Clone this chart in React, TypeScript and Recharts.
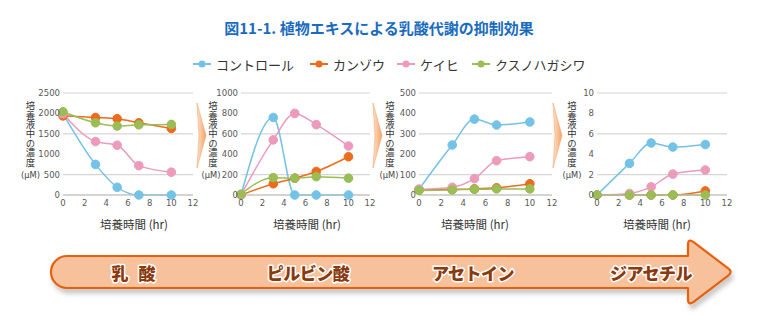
import React from 'react';
import { LineChart, Line, XAxis, YAxis, CartesianGrid } from 'recharts';

// sampling times (hr)
const HOURS = [0, 3, 5, 7, 10];
const X_TICKS = [0, 2, 4, 6, 8, 10, 12];

const SERIES_NAMES = ['コントロール', 'カンゾウ', 'ケイヒ', 'クスノハガシワ'];
const SERIES_COLORS = ['#74c3e6', '#ed6b1c', '#ec9bbd', '#9abd55'];

// 乳酸 (μM)
const LACTIC_CONTROL = [1990, 750, 190, 0, 0];
const LACTIC_KANZOU = [1940, 1900, 1870, 1770, 1630];
const LACTIC_KEIHI = [1990, 1310, 1220, 720, 560];
const LACTIC_KUSUNOHA = [2040, 1770, 1690, 1720, 1730];
const LACTIC_TICKS = [0, 500, 1000, 1500, 2000, 2500];

// ピルビン酸 (μM)
const PYRUVIC_CONTROL = [0, 760, 0, 0, 0];
const PYRUVIC_KANZOU = [0, 110, 165, 230, 375];
const PYRUVIC_KEIHI = [0, 540, 800, 690, 480];
const PYRUVIC_KUSUNOHA = [8, 170, 165, 180, 165];
const PYRUVIC_TICKS = [0, 200, 400, 600, 800, 1000];

// アセトイン (μM)
const ACETOIN_CONTROL = [28, 245, 372, 343, 358];
const ACETOIN_KANZOU = [25, 28, 30, 35, 55];
const ACETOIN_KEIHI = [28, 38, 80, 168, 188];
const ACETOIN_KUSUNOHA = [22, 25, 28, 30, 30];
const ACETOIN_TICKS = [0, 100, 200, 300, 400, 500];

// ジアセチル (μM)
const DIACETYL_CONTROL = [0, 3.1, 5.1, 4.7, 4.95];
const DIACETYL_KANZOU = [0, 0, 0, 0, 0.4];
const DIACETYL_KEIHI = [0, 0.15, 0.8, 2.05, 2.45];
const DIACETYL_KUSUNOHA = [0, 0, 0, 0, 0];
const DIACETYL_TICKS = [0, 2, 4, 6, 8, 10];

const STAGES = ['乳 酸', 'ピルビン酸', 'アセトイン', 'ジアセチル'];

const PANELS = [
  { series: [LACTIC_CONTROL, LACTIC_KANZOU, LACTIC_KEIHI, LACTIC_KUSUNOHA], ticks: LACTIC_TICKS },
  { series: [PYRUVIC_CONTROL, PYRUVIC_KANZOU, PYRUVIC_KEIHI, PYRUVIC_KUSUNOHA], ticks: PYRUVIC_TICKS },
  { series: [ACETOIN_CONTROL, ACETOIN_KANZOU, ACETOIN_KEIHI, ACETOIN_KUSUNOHA], ticks: ACETOIN_TICKS },
  { series: [DIACETYL_CONTROL, DIACETYL_KANZOU, DIACETYL_KEIHI, DIACETYL_KUSUNOHA], ticks: DIACETYL_TICKS },
];

// layout of the four small plots
const PLOT_LEFT = [63, 241, 419, 597];
const PLOT_WIDTH = [130, 129, 133, 130];
const YLABEL_X = [30.5, 213, 390, 572];
const UNIT_X = [30.5, 211, 389, 572];
const XLABEL_X = [134, 307, 475, 657];
const STAGE_X = [135, 308, 473, 651];
const CHEVRON_X = [197, 373, 553];
const LEGEND_X = [193, 310, 397, 472];

const CJK = '"Noto Sans CJK JP", "Noto Sans", sans-serif';
const NUM = '"DejaVu Sans", sans-serif';
const Y_LABEL = '培養液中の濃度';

const buildRows = (series: number[][]) =>
  HOURS.map((h, i) => {
    const row: Record<string, number> = { h };
    series.forEach((s, k) => (row[`s${k}`] = s[i]));
    return row;
  });

const tickStyle = { fontSize: 8.5, fill: '#595959', fontFamily: NUM };

const Panel = ({ idx }: { idx: number }) => {
  const p = PANELS[idx];
  const rows = buildRows(p.series);
  const max = p.ticks[p.ticks.length - 1];
  return (
    <div style={{ position: 'absolute', left: PLOT_LEFT[idx] - 50, top: 80 }}>
      <LineChart
        width={50 + PLOT_WIDTH[idx] + 8}
        height={130}
        data={rows}
        margin={{ top: 13, right: 8, left: 5, bottom: 0 }}
      >
        <CartesianGrid vertical={false} stroke="#d6d6d6" strokeWidth={1.2} />
        <XAxis
          dataKey="h"
          type="number"
          domain={[0, 12]}
          ticks={X_TICKS}
          height={15}
          tickSize={3}
          tickMargin={2}
          tickLine={false}
          axisLine={{ stroke: '#bdbdbd' }}
          tick={tickStyle}
        />
        <YAxis
          type="number"
          domain={[0, max]}
          ticks={p.ticks}
          width={45}
          tickSize={1}
          tickMargin={2}
          tickLine={false}
          axisLine={false}
          tick={tickStyle}
        />
        {SERIES_NAMES.map((name, k) => (
          <Line
            key={name}
            name={name}
            dataKey={`s${k}`}
            type="monotone"
            stroke={SERIES_COLORS[k]}
            strokeWidth={1.5}
            dot={{ r: 4.3, fill: SERIES_COLORS[k], stroke: SERIES_COLORS[k], strokeWidth: 1 }}
            isAnimationActive={false}
          />
        ))}
      </LineChart>
    </div>
  );
};

export default function App() {
  return (
    <div style={{ position: 'absolute', left: 0, top: 0, width: 760, height: 327, background: '#fff' }}>
      <svg width={760} height={327} style={{ position: 'absolute', left: 0, top: 0 }}>
        <defs>
          <linearGradient id="chev" x1="0" y1="0" x2="1" y2="0">
            <stop offset="0%" stopColor="#fde3cf" />
            <stop offset="100%" stopColor="#f5a263" />
          </linearGradient>
          <filter id="arrowShadow" x="-5%" y="-30%" width="110%" height="180%">
            <feDropShadow dx="2" dy="5" stdDeviation="2" floodColor="#000" floodOpacity="0.2" />
          </filter>
        </defs>

        <text x={379} y={27} textAnchor="middle" dominantBaseline="central"
          fontFamily={CJK} fontSize={15} fontWeight="bold" fill="#1a6bc0">
          図11-1. 植物エキスによる乳酸代謝の抑制効果
        </text>

        {SERIES_NAMES.map((name, k) => (
          <g key={name}>
            <line x1={LEGEND_X[k]} x2={LEGEND_X[k] + 18} y1={64} y2={64} stroke={SERIES_COLORS[k]} strokeWidth={2} />
            <circle cx={LEGEND_X[k] + 9} cy={64} r={3.5} fill={SERIES_COLORS[k]} />
            <text x={LEGEND_X[k] + 23} y={64} dominantBaseline="central" fontFamily={CJK} fontSize={13} fill="#333">
              {name}
            </text>
          </g>
        ))}

        {CHEVRON_X.map((x) => (
          <polygon key={x} points={`${x},103 ${x + 9},135.5 ${x},168 ${x + 2},135.5`}
            fill="url(#chev)" stroke="#f6a86e" strokeWidth={0.6} />
        ))}

        {PANELS.map((_, i) => (
          <g key={i} fontFamily={CJK} fill="#333">
            <text x={YLABEL_X[i]} y={101} fontSize={9.4}
              style={{ writingMode: 'vertical-rl', textOrientation: 'upright' }}>
              {Y_LABEL}
            </text>
            <text x={UNIT_X[i]} y={175} textAnchor="middle" dominantBaseline="central" fontSize={8.3} fontFamily={NUM} fill="#444">
              (μM)
            </text>
            <text x={XLABEL_X[i]} y={224} textAnchor="middle" dominantBaseline="central" fontSize={11.5}>
              培養時間 (hr)
            </text>
          </g>
        ))}

        <path
          d="M 67 256 L 688 256 L 688 245 Q 688 238 693.6 242.2 L 728.2 268.4 Q 733 272 728.2 275.6 L 693.6 301.8 Q 688 306 688 299 L 688 288 L 67 288 A 16 16 0 0 1 67 256 Z"
          fill="#f7c19c"
          stroke="#e6600e"
          strokeWidth={2.2}
          strokeLinejoin="round"
          filter="url(#arrowShadow)"
        />
        {STAGES.map((s, i) => (
          <text key={s} x={STAGE_X[i]} y={272} textAnchor="middle" dominantBaseline="central"
            fontFamily={CJK} fontSize={17} fontWeight={900} fill="#8a3a0e"
            stroke="#fff" strokeWidth={3} paintOrder="stroke" strokeLinejoin="round"
            letterSpacing={i === 0 ? 3 : -0.5}>
            {s}
          </text>
        ))}
      </svg>
      {PANELS.map((_, i) => (
        <Panel key={i} idx={i} />
      ))}
    </div>
  );
}
